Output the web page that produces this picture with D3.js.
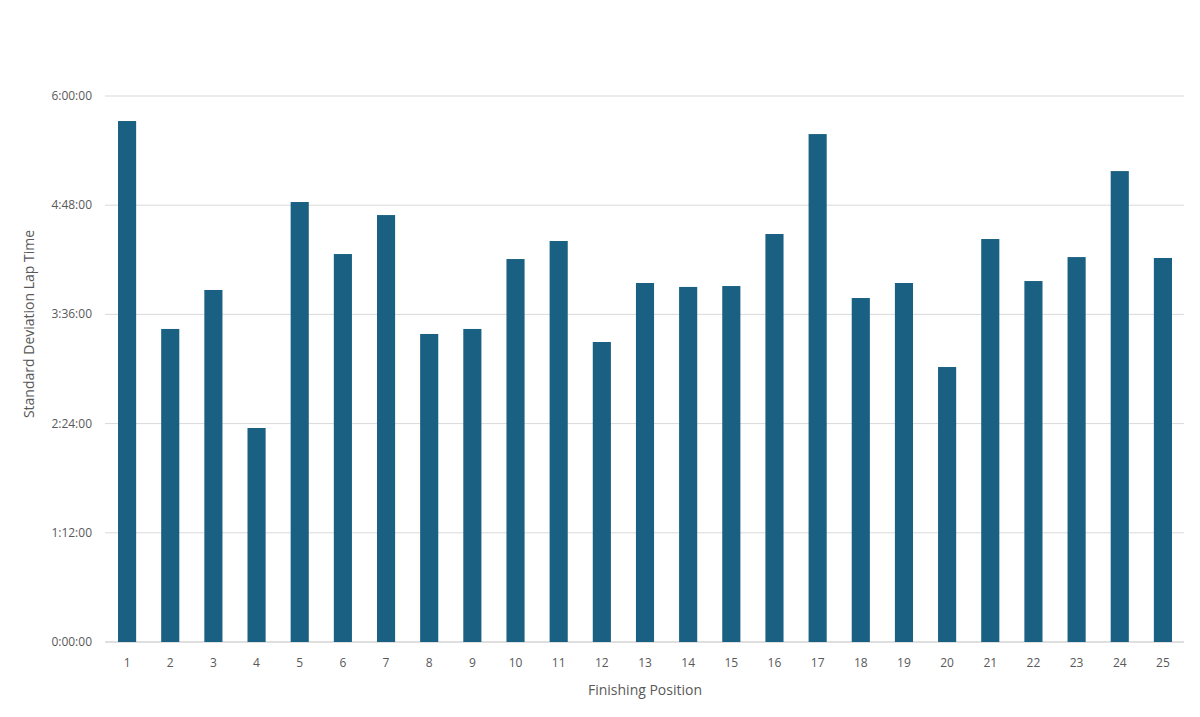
<!DOCTYPE html>
<html><head><meta charset="utf-8">
<script src="https://cdn.jsdelivr.net/npm/d3@7"></script>
<style>body{margin:0;background:#fff}svg{font-family:"Open Sans",Arial,sans-serif}</style>
</head><body><svg id="c" width="1200" height="717"></svg>
<script>
const positions = d3.range(1,26).map(String);
// standard deviation lap time, in minutes
const values = [343.5,206.4,232.1,141.1,290.1,255.8,281.5,203.1,206.4,252.5,264.4,197.8,236.7,234.1,234.7,269.0,334.9,226.8,236.7,181.3,265.7,238.0,253.8,310.5,253.2];
const yTicks = [0,72,144,216,288,360];

const svg = d3.select("#c");
const x = d3.scaleBand().domain(positions).range([105.5,1184.5]).paddingInner(0.58).paddingOuter(0.29);
const y = d3.scaleLinear().domain([0,360]).range([642,96]);
const fmt = m => { const h=Math.floor(m/60), mm=Math.round(m%60); return h+":"+String(mm).padStart(2,"0")+":00"; };

svg.append("g").selectAll("line").data(yTicks).join("line")
  .attr("x1",105).attr("x2",1184).attr("y1",d=>y(d)).attr("y2",d=>y(d))
  .attr("stroke",d=>d===0?"#bfbfbf":"#d9d9d9").attr("stroke-width",1);

svg.append("g").selectAll("rect").data(values).join("rect")
  .attr("x",(d,i)=>x(positions[i])).attr("width",x.bandwidth())
  .attr("y",d=>y(d)).attr("height",d=>y(0)-y(d)).attr("fill","#1a6082");

svg.append("g").selectAll("text").data(yTicks).join("text")
  .attr("x",92).attr("y",d=>y(d)+4).attr("text-anchor","end")
  .attr("font-size",12).attr("fill","#595959").text(fmt);

svg.append("g").selectAll("text").data(positions).join("text")
  .attr("x",d=>x(d)+x.bandwidth()/2).attr("y",667).attr("text-anchor","middle")
  .attr("font-size",12).attr("fill","#595959").text(d=>d);

svg.append("text").attr("x",645).attr("y",695).attr("text-anchor","middle")
  .attr("font-size",14).attr("fill","#595959").text("Finishing Position");
svg.append("text").attr("transform","translate(34,324) rotate(-90)").attr("text-anchor","middle")
  .attr("font-size",14).attr("fill","#595959").text("Standard Deviation Lap Time");
</script></body></html>
